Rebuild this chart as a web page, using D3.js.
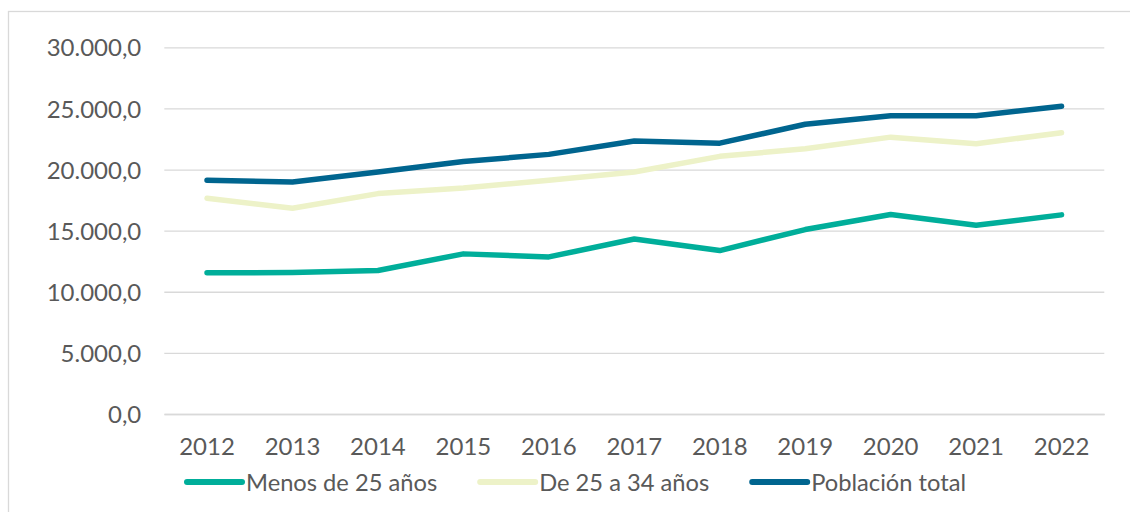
<!DOCTYPE html>
<html>
<head>
<meta charset="utf-8">
<script src="https://cdn.jsdelivr.net/npm/d3@7"></script>
<style>
  html, body { margin: 0; padding: 0; background: #fff; }
  svg { display: block; }
  text { font-family: Lato, "Open Sans", sans-serif; fill: #595959; }
</style>
</head>
<body>
<svg id="chart" width="1130" height="512"></svg>
<script>
const years = ["2012","2013","2014","2015","2016","2017","2018","2019","2020","2021","2022"];
const menos25 = [11550, 11570, 11740, 13100, 12850, 14320, 13370, 15090, 16320, 15440, 16290];
const de25a34 = [17650, 16830, 18030, 18490, 19120, 19800, 21080, 21700, 22650, 22110, 23010];
const poblacionTotal = [19130, 18980, 19800, 20650, 21240, 22330, 22160, 23700, 24400, 24400, 25180];
const seriesNames = ["Menos de 25 años", "De 25 a 34 años", "Población total"];
const seriesColors = ["#00AE9A", "#EDF2C8", "#00658F"];
const yTicks = [0, 5000, 10000, 15000, 20000, 25000, 30000];

const series = [menos25, de25a34, poblacionTotal];

const svg = d3.select("#chart");
const locale = d3.formatLocale({decimal: ",", thousands: ".", grouping: [3], currency: ["", "€"]});
const fmt = locale.format(",.1f");

// outer border
svg.append("rect").attr("x", 8.5).attr("y", 11.5).attr("width", 1140).attr("height", 520)
  .attr("fill", "none").attr("stroke", "#D9D9D9").attr("stroke-width", 1.3);

const x = d3.scaleBand().domain(years).range([164.3, 1104.3]).padding(0);
const y = d3.scaleLinear().domain([0, 30000]).range([414, 47.3]);

// gridlines
const yAxis = d3.axisLeft(y).tickValues(yTicks).tickSize(-(1104.3 - 164.3)).tickPadding(23).tickFormat(fmt);
const gy = svg.append("g").attr("transform", "translate(164.3,0)").call(yAxis);
gy.select(".domain").remove();
gy.selectAll(".tick line").attr("stroke", "#D9D9D9").attr("stroke-width", 1.3);
gy.selectAll(".tick text").attr("font-size", 24).attr("fill", "#595959").attr("dy", "0.36em")
  .style("font-family", "Lato, sans-serif");

// x axis
const xAxis = d3.axisBottom(x).tickSize(0).tickPadding(24);
const gx = svg.append("g").attr("transform", "translate(0,414)").call(xAxis);
gx.select(".domain").attr("stroke", "#D9D9D9").attr("stroke-width", 1.3);
gx.selectAll(".tick text").attr("font-size", 24).attr("fill", "#595959")
  .style("font-family", "Lato, sans-serif");

// lines
const line = d3.line()
  .x((d, i) => x(years[i]) + x.bandwidth() / 2)
  .y(d => y(d));

series.forEach((s, k) => {
  svg.append("path").datum(s)
    .attr("d", line)
    .attr("fill", "none")
    .attr("stroke", seriesColors[k])
    .attr("stroke-width", 5.5)
    .attr("stroke-linejoin", "round")
    .attr("stroke-linecap", "round");
});

// legend
const legend = svg.append("g").attr("transform", "translate(0,482)");
let lx = 187;
seriesNames.forEach((name, k) => {
  legend.append("line").attr("x1", lx).attr("x2", lx + 55).attr("y1", 0).attr("y2", 0)
    .attr("stroke", seriesColors[k]).attr("stroke-width", 6).attr("stroke-linecap", "round");
  const t = legend.append("text").attr("x", lx + 59).attr("y", 0).attr("dy", "0.36em")
    .attr("font-size", 23.7).style("font-family", "Lato, sans-serif").attr("fill", "#595959").text(name);
  const w = t.node().getComputedTextLength();
  lx = lx + 59 + w + 43;
});
</script>
</body>
</html>
